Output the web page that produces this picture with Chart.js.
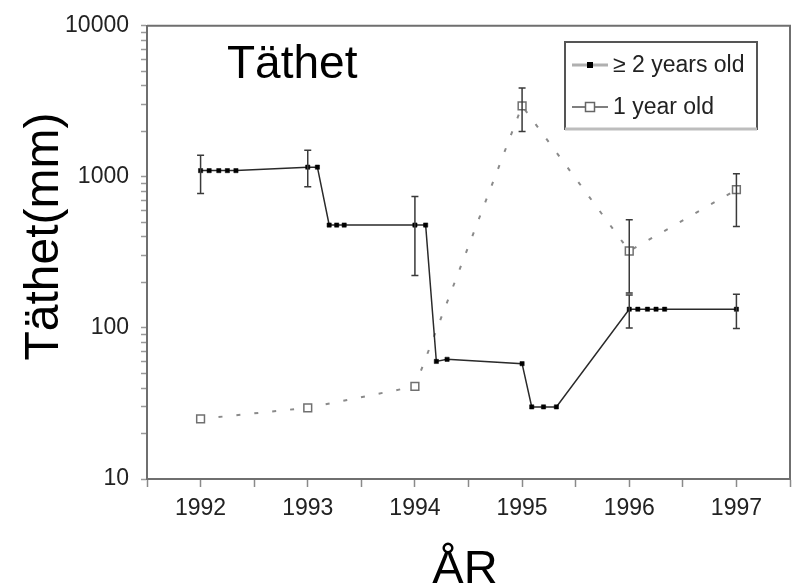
<!DOCTYPE html>
<html><head><meta charset="utf-8">
<script src="https://cdn.jsdelivr.net/npm/chart.js@4.4.1/dist/chart.umd.min.js"></script>
<style>html,body{margin:0;padding:0;background:#fff;}#wrap{width:798px;height:587px;}</style>
</head><body><div id="wrap"><canvas id="c" width="798" height="587"></canvas></div>
<script>
const chartTitle = 'Täthet';
const xAxisTitle = 'ÅR';
const yAxisTitle = 'Täthet(mm)';
const seriesNames = ['\u2265 2 years old', '1 year old'];
const xTickYears = [1992, 1993, 1994, 1995, 1996, 1997];
const yMajorTicks = [10, 100, 1000, 10000];
const yMinorSteps = [2, 3, 4, 5, 6, 7, 8, 9];

// >= 2 years old
const adultX = [1992.0, 1992.08, 1992.17, 1992.25, 1992.33, 1993.0, 1993.09, 1993.2, 1993.27, 1993.34, 1994.0, 1994.1, 1994.2, 1994.3, 1995.0, 1995.09, 1995.2, 1995.32, 1996.0, 1996.08, 1996.17, 1996.25, 1996.33, 1997.0];
const adultY = [1100, 1100, 1100, 1100, 1100, 1160, 1160, 480, 480, 480, 480, 480, 60, 62, 58, 30, 30, 30, 133, 133, 133, 133, 133, 133];
const adultErrLo = [775, null, null, null, null, 860, null, null, null, null, 222, null, null, null, null, null, null, null, 100, null, null, null, null, 99];
const adultErrHi = [1390, null, null, null, null, 1500, null, null, null, null, 740, null, null, null, null, null, null, null, 165, null, null, null, null, 167];

// 1 year old
const juvX = [1992, 1993, 1994, 1995, 1996, 1997];
const juvY = [25, 29.6, 41, 2950, 323, 822];
const juvErrLo = [null, null, null, 2000, 170, 470];
const juvErrHi = [null, null, null, 3870, 520, 1050];

const SANS = "'Liberation Sans', Arial, Helvetica, sans-serif";

function pts(xs, ys) { return xs.map((x, i) => ({x: x, y: ys[i]})); }

const borderPlugin = {
  id: 'frame',
  beforeDatasetsDraw(chart) {
    const {ctx, chartArea: a} = chart;
    ctx.save();
    ctx.strokeStyle = '#6f6f6f';
    ctx.lineWidth = 2;
    ctx.beginPath();
    ctx.moveTo(a.left, a.top); ctx.lineTo(a.right, a.top); ctx.lineTo(a.right, a.bottom);
    ctx.stroke();
    ctx.restore();
  }
};

const errorBarPlugin = {
  id: 'errbars',
  afterDatasetsDraw(chart) {
    const {ctx} = chart;
    const xs = chart.scales.x, ys = chart.scales.y;
    ctx.save();
    chart.data.datasets.forEach(ds => {
      ds.data.forEach((p, i) => {
        const lo = ds.errLo[i], hi = ds.errHi[i];
        if (lo == null || hi == null) return;
        const px = xs.getPixelForValue(p.x);
        const y1 = ys.getPixelForValue(lo), y2 = ys.getPixelForValue(hi);
        ctx.strokeStyle = '#3a3a3a';
        ctx.lineWidth = 1.5;
        ctx.beginPath();
        ctx.moveTo(px, y1); ctx.lineTo(px, y2);
        ctx.moveTo(px - 3.5, y1); ctx.lineTo(px + 3.5, y1);
        ctx.moveTo(px - 3.5, y2); ctx.lineTo(px + 3.5, y2);
        ctx.stroke();
      });
    });
    ctx.restore();
  }
};

const textPlugin = {
  id: 'texts',
  afterDraw(chart) {
    const {ctx} = chart;
    ctx.save();
    ctx.fillStyle = '#000';
    ctx.font = '46px ' + SANS;
    ctx.textAlign = 'left';
    ctx.textBaseline = 'alphabetic';
    ctx.fillText(chartTitle, 227, 78);
    ctx.font = '47px ' + SANS;
    ctx.textAlign = 'center';
    ctx.fillText(xAxisTitle, 465, 583);
    ctx.translate(58, 236.5);
    ctx.rotate(-Math.PI / 2);
    ctx.font = '48px ' + SANS;
    ctx.textAlign = 'center';
    ctx.fillText(yAxisTitle, 0, 0);
    ctx.restore();

    // legend
    ctx.save();
    const L = 565, T = 42, R = 757, B = 129;
    ctx.strokeStyle = '#555';
    ctx.lineWidth = 2;
    ctx.strokeRect(L, T, R - L, B - T);
    ctx.strokeStyle = '#bdbdbd';
    ctx.lineWidth = 3;
    ctx.beginPath(); ctx.moveTo(L, B); ctx.lineTo(R, B); ctx.stroke();
    const rows = [65, 107];
    chart.data.datasets.forEach((ds, i) => {
      const y = rows[i];
      ctx.beginPath();
      ctx.moveTo(572, y); ctx.lineTo(608, y);
      ctx.strokeStyle = i === 0 ? '#b0b0b0' : '#555';
      ctx.lineWidth = i === 0 ? 3 : 1.5;
      ctx.stroke();
      if (i === 0) {
        ctx.fillStyle = '#000';
        ctx.fillRect(587, y - 3, 6, 6);
      } else {
        ctx.fillStyle = '#fff';
        ctx.fillRect(585.5, y - 4.5, 9, 9);
        ctx.strokeStyle = '#666';
        ctx.lineWidth = 1.5;
        ctx.strokeRect(585.5, y - 4.5, 9, 9);
      }
      ctx.fillStyle = '#222';
      ctx.font = '23px ' + SANS;
      ctx.textAlign = 'left';
      ctx.textBaseline = 'middle';
      ctx.fillText(ds.label, 613, y + 1);
    });
    ctx.restore();
  }
};

const xTickValues = [];
xTickYears.forEach(y => { xTickValues.push(y - 0.5); xTickValues.push(y); });
xTickValues.push(xTickYears[xTickYears.length - 1] + 0.5);

const yTickValues = [];
yMajorTicks.forEach((m, i) => {
  yTickValues.push(m);
  if (i < yMajorTicks.length - 1) yMinorSteps.forEach(s => yTickValues.push(m * s));
});

new Chart(document.getElementById('c'), {
  type: 'line',
  data: {
    datasets: [
      {
        label: seriesNames[0],
        data: pts(adultX, adultY),
        errLo: adultErrLo, errHi: adultErrHi,
        borderColor: '#2a2a2a',
        borderWidth: 1.5,
        pointStyle: 'rect',
        pointRadius: 3,
        pointBackgroundColor: '#000',
        pointBorderColor: '#000',
        pointBorderWidth: 0.5,
        tension: 0,
        fill: false
      },
      {
        label: seriesNames[1],
        data: pts(juvX, juvY),
        errLo: juvErrLo, errHi: juvErrHi,
        borderColor: '#8a8a8a',
        borderWidth: 2,
        borderDash: [4, 14],
        pointStyle: 'rect',
        pointRadius: 5.5,
        pointBackgroundColor: '#fff',
        pointBorderColor: '#707070',
        pointBorderWidth: 1.5,
        tension: 0,
        fill: false
      }
    ]
  },
  options: {
    responsive: false,
    animation: false,
    devicePixelRatio: 1,
    layout: {padding: {top: 19, right: 7, left: 0, bottom: 0}},
    plugins: {legend: {display: false}, title: {display: false}, tooltip: {enabled: false}},
    scales: {
      x: {
        type: 'linear', min: 1991.5, max: 1997.5,
        afterBuildTicks: s => { s.ticks = xTickValues.map(v => ({value: v})); },
        afterFit: s => { s.height = 108; },
        ticks: {
          autoSkip: false, maxRotation: 0, padding: 8,
          color: '#222', font: {family: SANS, size: 23},
          callback: v => xTickYears.includes(v) ? String(v) : ''
        },
        grid: {drawOnChartArea: false, drawTicks: true, tickLength: 8, color: '#8a8a8a', tickWidth: 1.5},
        border: {display: true, color: '#6f6f6f', width: 2}
      },
      y: {
        type: 'logarithmic', min: 10, max: 10000,
        afterBuildTicks: s => { s.ticks = yTickValues.map(v => ({value: v})); },
        afterFit: s => { s.width = 147; },
        ticks: {
          autoSkip: false, padding: 12,
          color: '#222', font: {family: SANS, size: 23},
          callback: v => yMajorTicks.includes(v) ? String(v) : ''
        },
        grid: {drawOnChartArea: false, drawTicks: true, tickLength: 6, color: '#9a9a9a', tickWidth: 1.5},
        border: {display: true, color: '#6f6f6f', width: 2}
      }
    }
  },
  plugins: [borderPlugin, errorBarPlugin, textPlugin]
});
</script>
</body></html>
